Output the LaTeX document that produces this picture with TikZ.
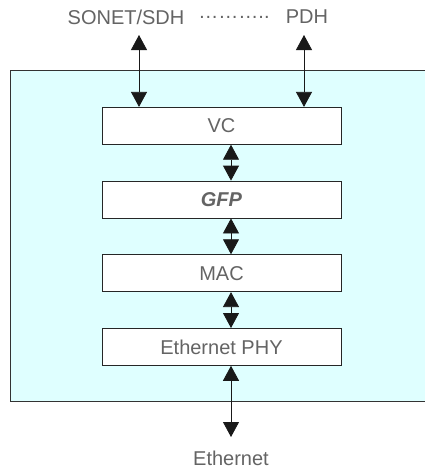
\documentclass[tikz,border=0pt]{standalone}
\usepackage{fontspec}
\setmainfont{Liberation Sans}
\usetikzlibrary{positioning, arrows.meta}
\definecolor{panel}{RGB}{223,255,255}
\definecolor{labelgray}{RGB}{100,100,100}

\begin{document}
\begin{tikzpicture}[x=1pt, y=-1pt, node distance=73.7pt, on grid,
    layer/.style={draw=black!85, fill=white, line width=0.8pt, minimum width=239pt,
      minimum height=37pt, inner sep=0pt, text=labelgray, font=\fontsize{20}{22}\selectfont},
    lbl/.style={text=labelgray, font=\fontsize{20}{22}\selectfont},
    biarrow/.style={{Triangle[length=15pt,width=16pt]}-{Triangle[length=15pt,width=16pt]},
      line width=0.8pt, black!90}]
      \useasboundingbox (0,0) rectangle (425,469);

      % backplane, its right side runs off the page
      \fill[panel] (10.5,70) rectangle (425,401);
      \draw[line width=0.8pt, draw=black!80] (425,70) -- (10.5,70) -- (10.5,401) -- (425,401);

      \node[layer] (vc) at (221.5,125.8) {VC};
      \node[layer] (gfp) [below=of vc] {\textbf{\textit{GFP}}};
      \node[layer] (mac) [below=of gfp] {MAC};
      \node[layer] (phy) [below=of mac] {Ethernet PHY};

      \node[lbl] (sdh) at (126,17) {SONET/SDH};
      \node[lbl] (dots) at (234,17) {………..};
      \node[lbl] (pdh) at (307,17) {PDH};
      \node[lbl] (eth) at (231,458) {Ethernet};

      \coordinate (sdhtip) at (139,35);
      \coordinate (pdhtip) at (304,35);
      \coordinate (ethtip) at (231,437);

      \draw[biarrow] (sdhtip) -- (sdhtip |- vc.north);
      \draw[biarrow] (pdhtip) -- (pdhtip |- vc.north);
      \draw[biarrow] ([xshift=9.5pt]vc.south) -- ([xshift=9.5pt]gfp.north);
      \draw[biarrow] ([xshift=9.5pt]gfp.south) -- ([xshift=9.5pt]mac.north);
      \draw[biarrow] ([xshift=9.5pt]mac.south) -- ([xshift=9.5pt]phy.north);
      \draw[biarrow] (ethtip |- phy.south) -- (ethtip);
    \end{tikzpicture}
\end{document}
